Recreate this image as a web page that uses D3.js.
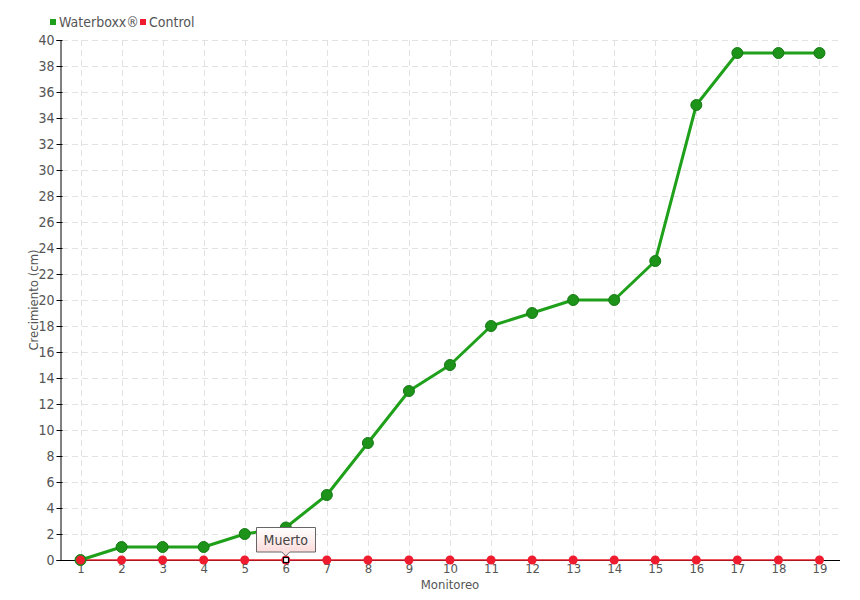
<!DOCTYPE html>
<html>
<head>
<meta charset="utf-8">
<script src="https://cdn.jsdelivr.net/npm/d3@7"></script>
<style>
  body { margin: 0; background: #fff; }
  svg text { font-family: "DejaVu Sans Condensed", "Liberation Sans Narrow", "Roboto", sans-serif; font-stretch: condensed; }
</style>
</head>
<body>
<svg id="chart" width="860" height="600"></svg>
<script>
const categories = [1,2,3,4,5,6,7,8,9,10,11,12,13,14,15,16,17,18,19];
const waterboxx = [0,1,1,1,2,2.5,5,9,13,15,18,19,20,20,23,35,39,39,39];
const control   = [0,0,0,0,0,0,0,0,0,0,0,0,0,0,0,0,0,0,0];
const yTicks = d3.range(0, 41, 2);
const seriesNames = ["Waterboxx®", "Control"];
const seriesColors = ["#1fa01a", "#ee1c2e"];
const tooltipLabel = "Muerto";
const tooltipIndex = 5;

const svg = d3.select("#chart");
const margin = {left: 60, right: 20, top: 40, bottom: 40};
const W = 860, H = 600;

const x = d3.scaleLinear().domain([0.5, 19.5]).range([margin.left, W - margin.right]);
const y = d3.scaleLinear().domain([0, 40]).range([H - margin.bottom, margin.top]);

// grid
const grid = svg.append("g");
grid.selectAll("line.h").data(yTicks.filter(d => d > 0)).join("line")
  .attr("x1", x(0.5) + 2).attr("x2", x(19.5))
  .attr("y1", d => y(d) + 0.5).attr("y2", d => y(d) + 0.5)
  .attr("stroke", "#e2e2e2").attr("stroke-dasharray", "6,4").attr("stroke-width", 1);
grid.selectAll("line.v").data(categories).join("line")
  .attr("x1", d => Math.round(x(d)) + 0.5).attr("x2", d => Math.round(x(d)) + 0.5)
  .attr("y1", y(40)).attr("y2", y(0))
  .attr("stroke", "#e2e2e2").attr("stroke-dasharray", "6,4").attr("stroke-width", 1);

// y axis
const yAxis = svg.append("g").attr("transform", `translate(${margin.left + 0.5},0)`)
  .call(d3.axisLeft(y).tickValues(yTicks).tickSize(4).tickPadding(2));
yAxis.select(".domain").attr("stroke", "#000");
yAxis.selectAll(".tick line").attr("stroke", "#000").attr("x2", 2).attr("x1", -4);
yAxis.selectAll(".tick text").attr("fill", "#555").style("font-size", "14px");

// x axis
const xAxis = svg.append("g").attr("transform", `translate(0,${y(0) + 0.5})`)
  .call(d3.axisBottom(x).tickValues(categories).tickSize(0).tickPadding(3).tickFormat(d3.format("d")));
xAxis.select(".domain").attr("stroke", "#000").attr("d", `M${x(0.5)},0H${x(19.5)}`);
xAxis.selectAll(".tick text").attr("fill", "#555").style("font-size", "13px");

// axis titles
svg.append("text").attr("x", 450).attr("y", 589).attr("text-anchor", "middle")
  .attr("fill", "#555").style("font-size", "13px").text("Monitoreo");
svg.append("text").attr("transform", `translate(38,${(y(0) + y(40)) / 2}) rotate(-90)`)
  .attr("text-anchor", "middle").attr("fill", "#555").style("font-size", "13px").text("Crecimiento (cm)");

// lines
const line = d3.line().x((d, i) => x(categories[i])).y(d => y(d));
svg.append("path").datum(control).attr("d", line).attr("fill", "none")
  .attr("stroke", seriesColors[1]).attr("stroke-width", 1.5);
svg.append("path").datum(waterboxx).attr("d", line).attr("fill", "none")
  .attr("stroke", seriesColors[0]).attr("stroke-width", 3).attr("stroke-linejoin", "round");

// points
svg.append("g").selectAll("circle").data(waterboxx).join("circle")
  .attr("cx", (d, i) => x(categories[i])).attr("cy", d => y(d)).attr("r", 5.5)
  .attr("fill", "#1e931a").attr("stroke", "#157a14").attr("stroke-width", 1);
svg.append("g").selectAll("circle").data(control).join("circle")
  .attr("cx", (d, i) => x(categories[i])).attr("cy", d => y(d)).attr("r", 4.5)
  .attr("fill", "#ee1c2e");

// tooltip
const tx = x(categories[tooltipIndex]), ty = y(control[tooltipIndex]);
svg.append("rect").attr("x", Math.round(tx) - 2.5).attr("y", Math.round(ty) - 2.5)
  .attr("width", 5).attr("height", 5).attr("fill", "#fff").attr("stroke", "#000").attr("stroke-width", 1.2);
const defs = svg.append("defs");
const grad = defs.append("linearGradient").attr("id", "tipg").attr("x1", 0).attr("x2", 0).attr("y1", 0).attr("y2", 1);
grad.append("stop").attr("offset", "0%").attr("stop-color", "#ffffff");
grad.append("stop").attr("offset", "100%").attr("stop-color", "#fcd6d6");
const bw = 59, bh = 25, by = ty - 8 - bh;
const bx = Math.round(tx) - 29.5;
const tipPath = `M${bx},${by + 0.5}H${bx + bw}V${by + bh}H${tx + 4}L${tx},${by + bh + 4}L${tx - 4},${by + bh}H${bx}Z`;
svg.append("path").attr("d", tipPath).attr("fill", "url(#tipg)").attr("stroke", "#666").attr("stroke-width", 1);
svg.append("text").attr("x", tx).attr("y", by + 17.5).attr("text-anchor", "middle")
  .attr("fill", "#444").style("font-size", "14px").text(tooltipLabel);

// legend
const leg = svg.append("g");
const legX = [50, 140];
seriesNames.forEach((n, i) => {
  leg.append("rect").attr("x", legX[i]).attr("y", 19).attr("width", 6).attr("height", 6).attr("fill", seriesColors[i]);
  leg.append("text").attr("x", legX[i] + 9).attr("y", 27).attr("fill", "#555").style("font-size", "14px").text(n);
});
</script>
</body>
</html>
